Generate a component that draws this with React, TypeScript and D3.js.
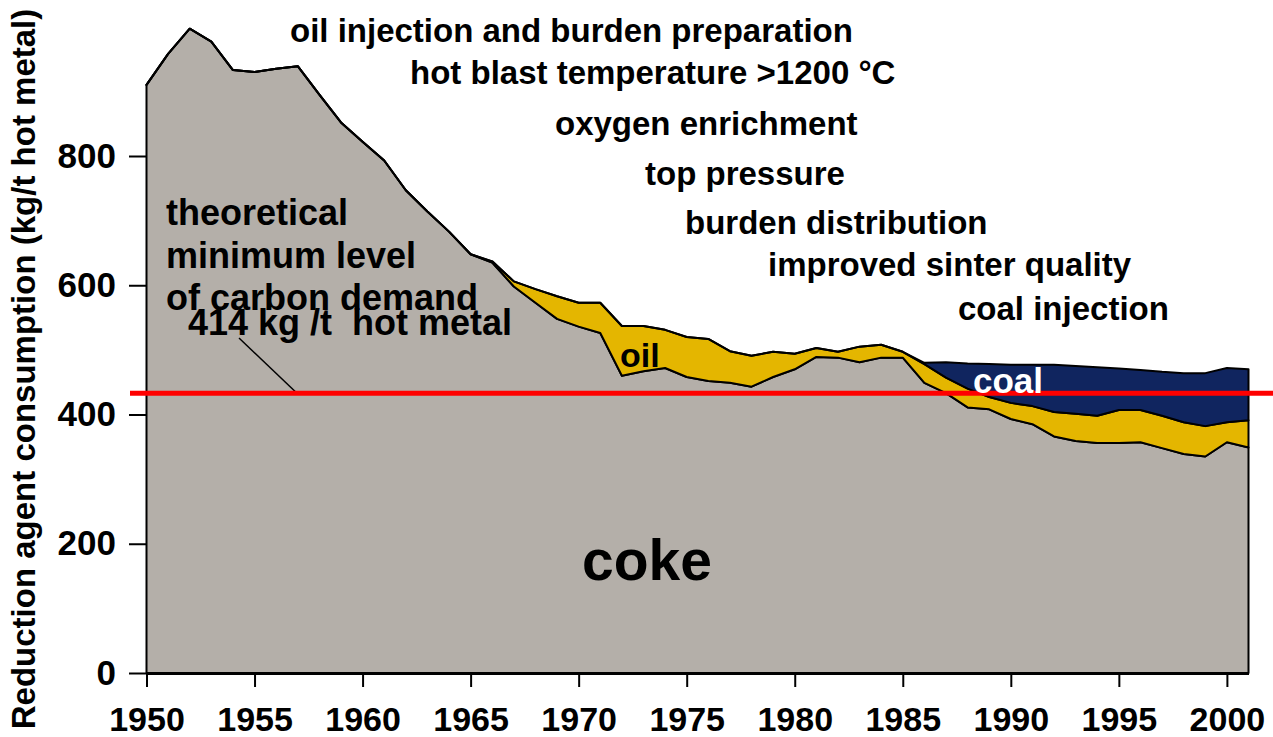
import { useEffect, useRef } from 'react';
import * as d3 from 'd3';

// years on the x axis
const years = [
  1950, 1951, 1952, 1953, 1954, 1955, 1956, 1957, 1958, 1959,
  1960, 1961, 1962, 1963, 1964, 1965, 1966, 1967, 1968, 1969,
  1970, 1971, 1972, 1973, 1974, 1975, 1976, 1977, 1978, 1979,
  1980, 1981, 1982, 1983, 1984, 1985, 1986, 1987, 1988, 1989,
  1990, 1991, 1992, 1993, 1994, 1995, 1996, 1997, 1998, 1999,
  2000, 2001,
];

// kg/t hot metal
const coke = [
  910, 958, 997, 977, 933, 930, 935, 939, 895, 852,
  822, 793, 747, 714, 683, 648, 635, 598, 573, 548,
  536, 526, 460, 467, 472, 458, 452, 449, 443, 458,
  470, 489, 488, 481, 488, 488, 449, 433, 411, 408,
  393, 385, 366, 359, 356, 356, 357, 348, 339, 335,
  357, 349,
];

const oil = [
  0, 0, 0, 0, 0, 0, 0, 0, 0, 0,
  0, 0, 0, 0, 0, 0, 2, 8, 21, 35,
  37, 47, 77, 70, 59, 62, 65, 49, 48, 39,
  24, 14, 9, 24, 20, 9, 29, 24, 29, 19,
  25, 28, 38, 42, 42, 51, 50, 50, 49, 47,
  31, 42,
];

const coal = [
  0, 0, 0, 0, 0, 0, 0, 0, 0, 0,
  0, 0, 0, 0, 0, 0, 0, 0, 0, 0,
  0, 0, 0, 0, 0, 0, 0, 0, 0, 0,
  0, 0, 0, 0, 0, 0, 2, 24, 39, 51,
  59, 64, 73, 74, 75, 64, 62, 68, 76, 82,
  84, 79,
];

const minimumLevel = 433;

const xTicks = [1950, 1955, 1960, 1965, 1970, 1975, 1980, 1985, 1990, 1995, 2000];
const yTicks = [0, 200, 400, 600, 800];

const measures = [
  { text: 'oil injection and burden preparation', x: 290, y: 42 },
  { text: 'hot blast temperature >1200 °C', x: 410, y: 84 },
  { text: 'oxygen enrichment', x: 555, y: 135 },
  { text: 'top pressure', x: 645, y: 185 },
  { text: 'burden distribution', x: 685, y: 234 },
  { text: 'improved sinter quality', x: 768, y: 276 },
  { text: 'coal injection', x: 958, y: 320 },
];

const FONT = "'Liberation Sans', Arial, sans-serif";

const App = () => {
  const svgRef = useRef<SVGSVGElement | null>(null);

  useEffect(() => {
    if (!svgRef.current) return;
    const svg = d3.select(svgRef.current);
    svg.selectAll('*').remove();

    const x = d3.scaleLinear().domain([1950, 2001]).range([146.5, 1248.5]);
    const y = d3.scaleLinear().domain([0, 800]).range([673, 156]);

    const table = years.map((yr, i) => ({ year: yr, coke: coke[i], oil: oil[i], coal: coal[i] }));
    const stack = d3.stack<any>().keys(['coke', 'oil', 'coal'])(table);
    const colors: Record<string, string> = { coke: '#b4afa9', oil: '#e4b600', coal: '#10255f' };

    const area = d3.area<any>()
      .x(d => x(d.data.year))
      .y0(d => y(d[0]))
      .y1(d => y(d[1]));

    svg.append('g')
      .selectAll('path')
      .data(stack)
      .join('path')
      .attr('d', d => area(d as any))
      .attr('fill', d => colors[d.key])
      .attr('stroke', '#000')
      .attr('stroke-width', 2)
      .attr('stroke-linejoin', 'round');

    // axes
    const xAxis = svg.append('g')
      .attr('transform', `translate(0,${y(0)})`)
      .call(d3.axisBottom(x).tickValues(xTicks).tickFormat(d3.format('d')).tickSize(14).tickPadding(20).tickSizeOuter(0));
    xAxis.select('.domain').attr('stroke', '#000').attr('stroke-width', 3);
    xAxis.selectAll('.tick line').attr('stroke', '#000').attr('stroke-width', 2);
    xAxis.selectAll('text')
      .attr('font-family', FONT).attr('font-weight', 'bold').attr('font-size', 34).attr('fill', '#000');

    const yAxis = svg.append('g')
      .attr('transform', `translate(147,0)`)
      .call(d3.axisLeft(y).tickValues(yTicks).tickSize(18).tickPadding(13));
    yAxis.select('.domain').remove();
    yAxis.selectAll('.tick line').attr('stroke', '#000').attr('stroke-width', 2);
    yAxis.selectAll('text')
      .attr('font-family', FONT).attr('font-weight', 'bold').attr('font-size', 35).attr('fill', '#000');

    svg.append('text')
      .attr('transform', `translate(35,369) rotate(-90)`)
      .attr('text-anchor', 'middle')
      .attr('font-family', FONT).attr('font-weight', 'bold').attr('font-size', 33)
      .text('Reduction agent consumption (kg/t hot metal)');

    // labels of the measures
    svg.append('g')
      .attr('font-family', FONT).attr('font-weight', 'bold').attr('font-size', 33)
      .selectAll('text')
      .data(measures)
      .join('text')
      .attr('x', d => d.x)
      .attr('y', d => d.y)
      .text(d => d.text);

    const note = svg.append('g')
      .attr('font-family', FONT).attr('font-weight', 'bold').attr('font-size', 36);
    ['theoretical', 'minimum level', 'of carbon demand'].forEach((t, i) => {
      note.append('text').attr('x', 166).attr('y', 225 + i * 42.5).text(t);
    });
    note.append('text')
      .attr('x', 188).attr('y', 335)
      .style('white-space', 'pre')
      .text('414 kg /t  hot metal');

    // pointer to the red line
    svg.append('line')
      .attr('x1', 239).attr('y1', 338)
      .attr('x2', 297).attr('y2', y(minimumLevel))
      .attr('stroke', '#000').attr('stroke-width', 1.5);

    svg.append('line')
      .attr('x1', 130).attr('x2', 1273)
      .attr('y1', y(minimumLevel)).attr('y2', y(minimumLevel))
      .attr('stroke', '#ff0000').attr('stroke-width', 5);

    svg.append('text')
      .attr('x', 620).attr('y', 367)
      .attr('font-family', FONT).attr('font-weight', 'bold').attr('font-size', 34)
      .text('oil');
    svg.append('text')
      .attr('x', 973).attr('y', 393)
      .attr('font-family', FONT).attr('font-weight', 'bold').attr('font-size', 35)
      .attr('fill', '#fff')
      .text('coal');
    svg.append('text')
      .attr('x', 582).attr('y', 580)
      .attr('font-family', FONT).attr('font-weight', 'bold').attr('font-size', 57)
      .text('coke');
  }, []);

  return (
    <svg
      ref={svgRef}
      width={1273}
      height={737}
      style={{ position: 'absolute', left: 0, top: 0, background: '#fff' }}
    />
  );
};

export default App;
